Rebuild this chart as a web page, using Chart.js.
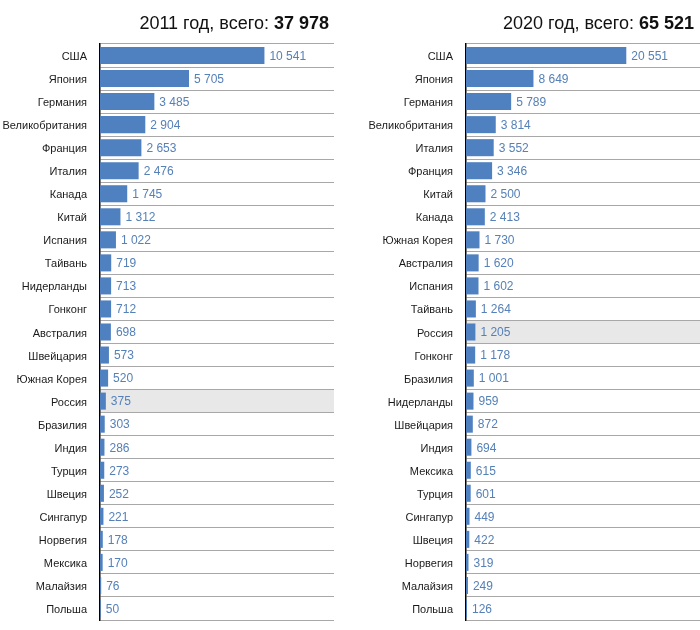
<!DOCTYPE html>
<html>
<head>
<meta charset="utf-8">
<script src="https://cdn.jsdelivr.net/npm/chart.js@4"></script>
<style>
  body { margin: 0; background: #fff; font-family: "Liberation Sans", Arial, sans-serif; }
  .wrap { position: relative; width: 700px; height: 630px; }
  canvas { position: absolute; top: 0; }
  .title { position: absolute; top: 13px; font-size: 18px; color: #111; white-space: nowrap; }
  .title b { font-weight: bold; }
</style>
</head>
<body>
<div class="wrap">
  <canvas id="chart2011" width="350" height="630" style="left:0"></canvas>
  <canvas id="chart2020" width="350" height="630" style="left:350px"></canvas>
  <div class="title" style="right:371px">2011 год, всего: <b>37 978</b></div>
  <div class="title" style="right:6px">2020 год, всего: <b>65 521</b></div>
</div>
<script>
// 2011
const countries2011 = ['США', 'Япония', 'Германия', 'Великобритания', 'Франция', 'Италия', 'Канада', 'Китай',
    'Испания', 'Тайвань', 'Нидерланды', 'Гонконг', 'Австралия', 'Швейцария', 'Южная Корея', 'Россия',
    'Бразилия', 'Индия', 'Турция', 'Швеция', 'Сингапур', 'Норвегия', 'Мексика', 'Малайзия', 'Польша'];
const values2011 = [10541, 5705, 3485, 2904, 2653, 2476, 1745, 1312, 1022, 719, 713, 712, 698, 573, 520, 375,
    303, 286, 273, 252, 221, 178, 170, 76, 50];

// 2020
const countries2020 = ['США', 'Япония', 'Германия', 'Великобритания', 'Италия', 'Франция', 'Китай', 'Канада',
    'Южная Корея', 'Австралия', 'Испания', 'Тайвань', 'Россия', 'Гонконг', 'Бразилия', 'Нидерланды',
    'Швейцария', 'Индия', 'Мексика', 'Турция', 'Сингапур', 'Швеция', 'Норвегия', 'Малайзия', 'Польша'];
const values2020 = [20551, 8649, 5789, 3814, 3552, 3346, 2500, 2413, 1730, 1620, 1602, 1264, 1205, 1178, 1001, 959,
    872, 694, 615, 601, 449, 422, 319, 249, 126];

const highlight = 'Россия';

function fmt(n) {
    return String(n).replace(/\B(?=(\d{3})+(?!\d))/g, ' ');
}

// grey band behind the highlighted row, drawn before grid lines
const highlightRow = {
    id: 'highlightRow',
    beforeDraw(chart) {
        const idx = chart.data.labels.indexOf(highlight);
        if (idx < 0) return;
        const y = chart.scales.y;
        const area = chart.chartArea;
        const step = (y.bottom - y.top) / chart.data.labels.length;
        const ctx = chart.ctx;
        ctx.save();
        ctx.fillStyle = '#e8e8e8';
        ctx.fillRect(area.left, y.top + idx * step, area.right - area.left, step);
        ctx.restore();
    }
};

// numbers after the bars
const valueLabels = {
    id: 'valueLabels',
    afterDatasetsDraw(chart) {
        const ctx = chart.ctx;
        const meta = chart.getDatasetMeta(0);
        ctx.save();
        ctx.font = '12px "Liberation Sans", Arial, sans-serif';
        ctx.fillStyle = '#5580b8';
        ctx.textBaseline = 'middle';
        ctx.textAlign = 'left';
        meta.data.forEach((bar, i) => {
            ctx.fillText(fmt(chart.data.datasets[0].data[i]), bar.x + 5, bar.y + 1);
        });
        ctx.restore();
    }
};

function makeChart(id, labels, values, max, axisWidth, padRight) {
    return new Chart(document.getElementById(id), {
        type: 'bar',
        data: {
            labels: labels,
            datasets: [{
                data: values,
                backgroundColor: '#4f80c0',
                barPercentage: 0.74,
                categoryPercentage: 1
            }]
        },
        options: {
            indexAxis: 'y',
            responsive: false,
            animation: false,
            devicePixelRatio: 1,
            layout: { padding: { top: 44, bottom: 10, left: 0, right: padRight } },
            plugins: { legend: { display: false }, tooltip: { enabled: false } },
            scales: {
                x: { display: false, min: 0, max: max },
                y: {
                    afterFit(scale) {
                        scale.width = axisWidth;
                        scale.paddingTop = 0;
                        scale.paddingBottom = 0;
                    },
                    grid: { offset: true, color: '#a8a8a8', drawTicks: false, lineWidth: 1 },
                    border: { display: true, color: '#000', width: 1.5 },
                    ticks: {
                        padding: 13,
                        labelOffset: 1.5,
                        color: '#1a1a1a',
                        font: { family: '"Liberation Sans", Arial, sans-serif', size: 11 }
                    }
                }
            }
        },
        plugins: [highlightRow, valueLabels]
    });
}

makeChart('chart2011', countries2011, values2011, 15000, 100, 16);
makeChart('chart2020', countries2020, values2020, 30000, 116, 0);
</script>
</body>
</html>
